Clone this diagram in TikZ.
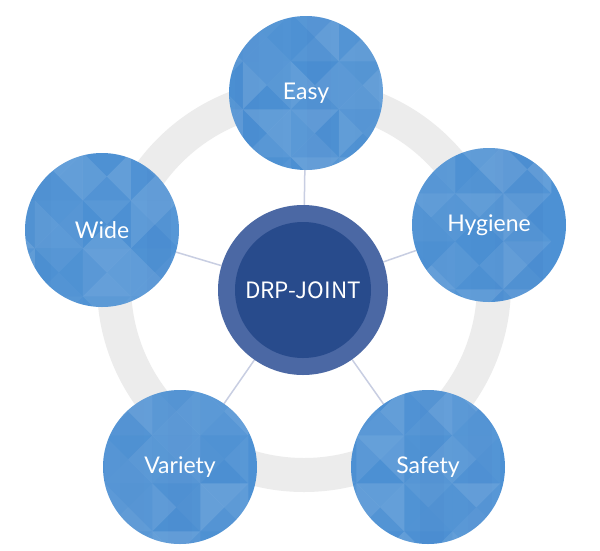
\documentclass[tikz,border=0pt]{standalone}
\usepackage{fontspec}
\setmainfont{Lato}
\newfontfamily\krfont{Noto Sans CJK KR}
\usetikzlibrary{backgrounds}
\definecolor{bubblebase}{HTML}{4D91D4}
\definecolor{facetdark}{HTML}{2F6FB5}
\definecolor{ringgray}{HTML}{ECECEC}
\definecolor{connline}{HTML}{C8CEE2}
\definecolor{coreout}{HTML}{4B68A4}
\definecolor{corein}{HTML}{284B8C}
\begin{document}
\begin{tikzpicture}[x=1pt,y=-1pt,
  facets/.style={path picture={
    \begin{scope}[shift={(path picture bounding box.center)}]
    \foreach \i in {-4,...,3}{
      \pgfmathsetmacro\so{rnd*0.10}
      \fill[facetdark,fill opacity=\so] (\i*24,-90) rectangle ++(24,180);
    }
    \foreach \i in {-2,...,1}{
      \foreach \j in {-2,...,1}{
        \pgfmathsetmacro\oa{rnd*0.15}
        \pgfmathsetmacro\ob{rnd*0.15}
        \pgfmathsetmacro\oc{rnd*0.15}
        \pgfmathsetmacro\od{rnd*0.15}
        \fill[white,fill opacity=\oa] (\i*48+8,\j*48+10) -- ++(48,0) -- ++(-24,24) -- cycle;
        \fill[white,fill opacity=\ob] (\i*48+56,\j*48+10) -- ++(0,48) -- ++(-24,-24) -- cycle;
        \fill[white,fill opacity=\oc] (\i*48+56,\j*48+58) -- ++(-48,0) -- ++(24,-24) -- cycle;
        \fill[white,fill opacity=\od] (\i*48+8,\j*48+58) -- ++(0,-48) -- ++(24,24) -- cycle;
      }}
    \end{scope}}},
  bubble/.style={circle, fill=bubblebase, minimum size=154pt, inner sep=0pt,
    text=white, font=\fontsize{23}{27}\selectfont, facets},
  core/.style={circle, fill=coreout, minimum size=170pt, inner sep=0pt,
    text=white, font=\krfont\fontsize{22.5}{27}\selectfont,
    path picture={\fill[corein] (path picture bounding box.center) circle (68);}},
  conn/.style={draw=connline, line width=1.5pt}
]
\pgfmathsetseed{23}
\useasboundingbox (0,0) rectangle (600,550);

\node[core] (core) at (303,290) {DRP-JOINT};
\node[bubble] (easy) at (306,93) {Easy};
\node[bubble] (hyg) at (489,225) {Hygiene};
\node[bubble] (safe) at (428,467) {Safety};
\node[bubble] (var) at (180,467) {Variety};
\node[bubble] (wide) at (102,230) {Wide};

\begin{scope}[on background layer]
  \fill[white] (0,0) rectangle (600,550);
  \draw[ringgray, line width=34pt] (304,285) circle (190);
  \draw[conn] (core) -- (easy);
  \draw[conn] (core) -- (hyg);
  \draw[conn] (core) -- (safe);
  \draw[conn] (core) -- (var);
  \draw[conn] (core) -- (wide);
\end{scope}
\end{tikzpicture}
\end{document}
